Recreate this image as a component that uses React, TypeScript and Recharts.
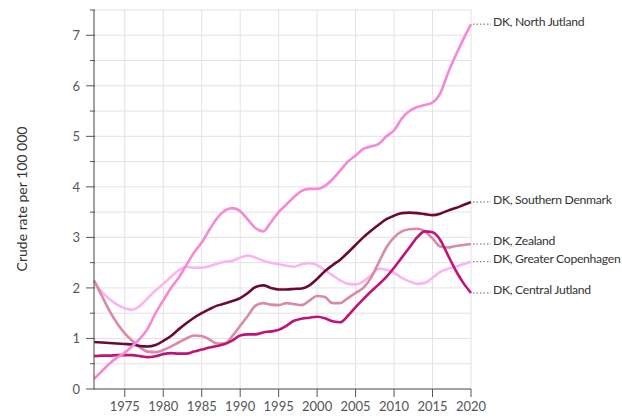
import React from 'react';
import { LineChart, Line, XAxis, YAxis, CartesianGrid, Label } from 'recharts';

const years = [
    1971, 1972, 1973, 1974, 1975, 1976, 1977, 1978, 1979, 1980,
    1981, 1982, 1983, 1984, 1985, 1986, 1987, 1988, 1989, 1990,
    1991, 1992, 1993, 1994, 1995, 1996, 1997, 1998, 1999, 2000,
    2001, 2002, 2003, 2004, 2005, 2006, 2007, 2008, 2009, 2010,
    2011, 2012, 2013, 2014, 2015, 2016, 2017, 2018, 2019, 2020,
];

const northJutland = [
    0.2, 0.35, 0.5, 0.62, 0.72, 0.85, 1.0, 1.2, 1.5, 1.75,
    2.0, 2.2, 2.45, 2.7, 2.9, 3.15, 3.38, 3.53, 3.58, 3.52,
    3.35, 3.18, 3.12, 3.3, 3.5, 3.65, 3.8, 3.92, 3.96, 3.96,
    4.02, 4.15, 4.32, 4.5, 4.62, 4.75, 4.8, 4.85, 5.0, 5.12,
    5.35, 5.5, 5.58, 5.62, 5.67, 5.85, 6.25, 6.6, 6.92, 7.22,
];

const southernDenmark = [
    0.93, 0.92, 0.91, 0.9, 0.89, 0.88, 0.85, 0.84, 0.87, 0.95,
    1.05, 1.18, 1.3, 1.41, 1.5, 1.58, 1.65, 1.69, 1.74, 1.8,
    1.9, 2.02, 2.05, 2.0, 1.97, 1.97, 1.98, 1.99, 2.05, 2.18,
    2.33, 2.45, 2.56, 2.7, 2.85, 3.0, 3.13, 3.25, 3.36, 3.43,
    3.48, 3.49, 3.48, 3.46, 3.44, 3.47, 3.53, 3.58, 3.64, 3.7,
];

const zealand = [
    2.15, 1.85, 1.55, 1.3, 1.1, 0.95, 0.82, 0.74, 0.73, 0.77,
    0.84, 0.92, 1.0, 1.06, 1.05, 0.98, 0.9, 0.9, 1.05, 1.25,
    1.45, 1.65, 1.7, 1.67, 1.66, 1.7, 1.68, 1.66, 1.75, 1.84,
    1.82, 1.7, 1.7, 1.8, 1.9, 2.0, 2.2, 2.5, 2.8, 3.0,
    3.12, 3.16, 3.17, 3.12, 2.98, 2.82, 2.8, 2.83, 2.85, 2.87,
];

const greaterCopenhagen = [
    2.12, 1.92, 1.78, 1.67, 1.6, 1.57, 1.65, 1.8, 1.95, 2.08,
    2.22, 2.35, 2.42, 2.4, 2.4, 2.43, 2.48, 2.52, 2.54, 2.6,
    2.64, 2.6, 2.54, 2.5, 2.47, 2.44, 2.42, 2.47, 2.49, 2.45,
    2.35, 2.25, 2.15, 2.08, 2.07, 2.13, 2.25, 2.38, 2.36, 2.3,
    2.2, 2.13, 2.08, 2.1, 2.2, 2.32, 2.38, 2.42, 2.47, 2.52,
];

const centralJutland = [
    0.65, 0.66, 0.66, 0.67, 0.67, 0.67, 0.65, 0.63, 0.65, 0.69,
    0.71, 0.7, 0.7, 0.74, 0.78, 0.82, 0.85, 0.89, 0.96, 1.06,
    1.08, 1.08, 1.12, 1.14, 1.17, 1.25, 1.35, 1.39, 1.41, 1.43,
    1.4, 1.34, 1.32, 1.45, 1.62, 1.78, 1.93, 2.07, 2.22, 2.4,
    2.6, 2.8, 3.0, 3.12, 3.1, 2.95, 2.65, 2.35, 2.1, 1.9,
];

const xTicks = [1975, 1980, 1985, 1990, 1995, 2000, 2005, 2010, 2015, 2020];
const yTicks = [0, 0.5, 1, 1.5, 2, 2.5, 3, 3.5, 4, 4.5, 5, 5.5, 6, 6.5, 7, 7.5];

const series = [
    { key: 'greaterCopenhagen', name: 'DK, Greater Copenhagen', color: '#fcb4f0', values: greaterCopenhagen },
    { key: 'zealand', name: 'DK, Zealand', color: '#d98aa8', values: zealand },
    { key: 'centralJutland', name: 'DK, Central Jutland', color: '#c0137a', values: centralJutland },
    { key: 'southernDenmark', name: 'DK, Southern Denmark', color: '#6a0a36', values: southernDenmark },
    { key: 'northJutland', name: 'DK, North Jutland', color: '#f788d8', values: northJutland },
];

const data = years.map((year, i) => {
    const row: any = { year };
    series.forEach(s => { row[s.key] = s.values[i]; });
    return row;
});

const FONT = 'Lato, "Noto Sans", sans-serif';

const YTick = (props: any) => {
    const { x, y, payload } = props;
    const major = Number.isInteger(payload.value);
    return (
        <g>
            <line x1={x + 9 - (major ? 9 : 5)} y1={y} x2={x + 9} y2={y} stroke="#555" strokeWidth={1} />
            {major && payload.value <= 7 && (
                <text x={x - 6} y={y} textAnchor="end" dominantBaseline="central" fill="#555" fontSize={13} fontFamily={FONT}>
                    {payload.value}
                </text>
            )}
        </g>
    );
};

const XTick = (props: any) => {
    const { x, y, payload } = props;
    return (
        <g>
            <line x1={x} y1={y - 8} x2={x} y2={y} stroke="#555" strokeWidth={1} />
            <text x={x} y={y + 14} textAnchor="middle" fill="#555" fontSize={13} fontFamily={FONT}>
                {payload.value}
            </text>
        </g>
    );
};

const endLabel = (name: string) => (props: any) => {
    const { x, y, index } = props;
    if (index !== years.length - 1) return null;
    return (
        <g>
            <line x1={x + 2} y1={y} x2={x + 20} y2={y} stroke="#666" strokeWidth={1} strokeDasharray="1.5 2" />
            <text x={x + 22} y={y - 3} dominantBaseline="central" fill="#333" fontSize={12.2} letterSpacing={-0.3} fontFamily={FONT}>
                {name}
            </text>
        </g>
    );
};

export default function App() {
    return (
        <div style={{ position: 'absolute', left: 0, top: 0, width: 622, height: 418, background: '#fff' }}>
            <LineChart width={622} height={418} data={data} margin={{ top: 10, right: 151, bottom: 0, left: 0 }}>
                <CartesianGrid stroke="#e2e2e2" strokeWidth={1} />
                <XAxis
                    dataKey="year"
                    type="number"
                    domain={[1971, 2020]}
                    ticks={xTicks}
                    tick={<XTick />}
                    tickLine={false}
                    axisLine={{ stroke: '#555' }}
                    height={29}
                />
                <YAxis
                    type="number"
                    domain={[0, 7.5]}
                    ticks={yTicks}
                    tick={<YTick />}
                    tickLine={false}
                    axisLine={{ stroke: '#555' }}
                    width={94}
                    interval={0}
                >
                    <Label
                        content={() => (
                            <text x={21} y={199} transform="rotate(-90, 21, 199)" textAnchor="middle" dominantBaseline="central" fill="#333" fontSize={14} fontFamily={FONT}>
                                Crude rate per 100 000
                            </text>
                        )}
                    />
                </YAxis>
                {series.map(s => (
                    <Line
                        key={s.key}
                        dataKey={s.key}
                        name={s.name}
                        type="monotone"
                        stroke={s.color}
                        strokeWidth={2.6}
                        dot={false}
                        activeDot={false}
                        isAnimationActive={false}
                        label={endLabel(s.name)}
                    />
                ))}
            </LineChart>
        </div>
    );
}
